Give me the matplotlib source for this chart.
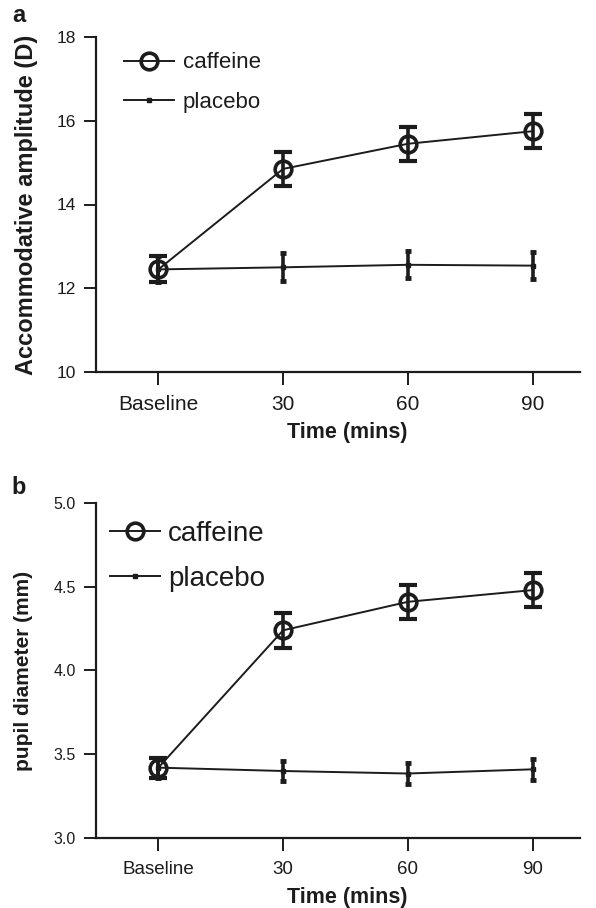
import matplotlib
matplotlib.use("Agg")
import matplotlib.pyplot as plt
import numpy as np

plt.rcParams['font.family'] = ['Liberation Sans', 'DejaVu Sans']

categories = ["Baseline", "30", "60", "90"]

# Panel a: accommodative amplitude (D)
amp_caffeine = [12.45, 14.85, 15.45, 15.75]
amp_caffeine_err = [0.31, 0.40, 0.40, 0.40]
amp_placebo = [12.45, 12.50, 12.56, 12.54]
amp_placebo_err = [0.31, 0.33, 0.32, 0.32]

# Panel b: pupil diameter (mm)
pup_caffeine = [3.42, 4.24, 4.41, 4.48]
pup_caffeine_err = [0.06, 0.105, 0.10, 0.10]
pup_placebo = [3.42, 3.40, 3.385, 3.41]
pup_placebo_err = [0.06, 0.062, 0.062, 0.062]

C = '#1c1c1c'
W, H = 596, 908
fig = plt.figure(figsize=(W / 100, H / 100), dpi=100)

def ax_rect(x0, x1, ytop, ybot):
    return [x0 / W, 1 - ybot / H, (x1 - x0) / W, (ybot - ytop) / H]

def panel(ax, caf, caf_err, pla, pla_err, ylim, yticks, yfmt, ylabel,
          ytick_fs, xtick_fs, ylabel_fs, ylabelpad, xlabelpad, leg_fs, leg_anchor,
          handlelen, textpad, labelspacing, ms):
    x = np.arange(len(categories))
    # placebo
    ax.errorbar(x, pla, yerr=pla_err, fmt='none', ecolor=C, elinewidth=2.6,
                capsize=2.5, capthick=3.5, zorder=2)
    ax.plot(x, pla, color=C, lw=1.4, marker='s', ms=3, label='placebo', zorder=3)
    # caffeine
    ax.errorbar(x, caf, yerr=caf_err, fmt='none', ecolor=C, elinewidth=2.6,
                capsize=6.5, capthick=3.0, zorder=4)
    ax.plot(x, caf, color=C, lw=1.4, marker='o', ms=ms, mfc='none', mec=C,
            mew=2.6, label='caffeine', zorder=5)

    ax.set_xlim(-0.5, 3.38)
    ax.set_ylim(*ylim)
    ax.set_yticks(yticks)
    ax.set_yticklabels([yfmt.format(v) for v in yticks], fontsize=ytick_fs, color=C)
    ax.set_xticks(x)
    ax.set_xticklabels(categories, fontsize=xtick_fs, color=C)
    for s in ['top', 'right']:
        ax.spines[s].set_visible(False)
    for s in ['left', 'bottom']:
        ax.spines[s].set_linewidth(1.6)
        ax.spines[s].set_color(C)
    ax.tick_params(axis='y', direction='out', length=9, width=1.4, color=C, pad=5.5)
    ax.tick_params(axis='x', direction='out', length=9, width=1.4, color=C, pad=7.5)
    ax.set_xlabel('Time (mins)', fontsize=15.5, fontweight='bold', color=C,
                  labelpad=xlabelpad, x=0.519)
    ax.set_ylabel(ylabel, fontsize=ylabel_fs, fontweight='bold', color=C,
                  labelpad=ylabelpad)

    h, l = ax.get_legend_handles_labels()
    ax.legend(h[::-1], l[::-1], loc='upper left', bbox_to_anchor=leg_anchor,
              frameon=False, fontsize=leg_fs, handlelength=handlelen,
              handletextpad=textpad, labelspacing=labelspacing, borderpad=0,
              borderaxespad=0, labelcolor=C)

ax1 = fig.add_axes(ax_rect(96, 580, 37, 372))
panel(ax1, amp_caffeine, amp_caffeine_err, amp_placebo, amp_placebo_err,
      (10, 18), [10, 12, 14, 16, 18], '{:.0f}', 'Accommodative amplitude (D)',
      12.5, 15, 17, 13, 6, 16, (0.058, 0.954), 2.25, 0.4, 0.82, 12)

ax2 = fig.add_axes(ax_rect(96, 580, 503, 838))
panel(ax2, pup_caffeine, pup_caffeine_err, pup_placebo, pup_placebo_err,
      (3.0, 5.0), [3.0, 3.5, 4.0, 4.5, 5.0], '{:.1f}', 'pupil diameter (mm)',
      11.5, 13.5, 15, 15, 6.5, 20, (0.029, 0.947), 1.8, 0.3, 0.69, 12)

fig.text(19 / W, 1 - 15 / H, 'a', fontsize=17, fontweight='bold', color=C,
         ha='center', va='center')
fig.text(19 / W, 1 - 488 / H, 'b', fontsize=17, fontweight='bold', color=C,
         ha='center', va='center')

fig.savefig('out.png', dpi=100)
